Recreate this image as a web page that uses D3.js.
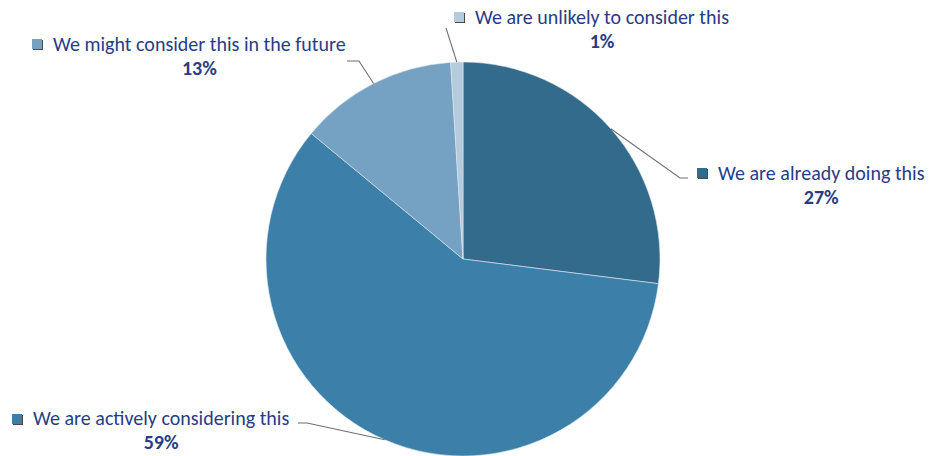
<!DOCTYPE html>
<html>
<head>
<meta charset="utf-8">
<script src="https://cdn.jsdelivr.net/npm/d3@7"></script>
<style>
  html, body { margin: 0; padding: 0; background: #ffffff; }
  svg { display: block; }
  .lbl { font-family: Carlito, Lato, "Open Sans", sans-serif; font-size: 20px; fill: #283c86; }
  .pct { font-weight: bold; }
</style>
</head>
<body>
<svg id="chart" width="931" height="456"></svg>
<script>
// Survey responses, in clockwise order from twelve o'clock
const categories = [
  "We are already doing this",
  "We are actively considering this",
  "We might consider this in the future",
  "We are unlikely to consider this"
];
const shares = [27, 59, 13, 1];
const shareLabels = ["27%", "59%", "13%", "1%"];
const sliceColors = ["#336b8c", "#3c80a9", "#75a1c2", "#b4cadd"];

// Label layout: marker corner, text start, baselines, leader elbow/end
const labelLayout = [
  { mx: 697, my: 168, tx: 718, by: 180, elbow: [680, 178], end: [688, 178] },
  { mx: 12,  my: 414, tx: 33,  by: 425, elbow: [307, 423], end: [298, 423] },
  { mx: 32,  my: 39,  tx: 53,  by: 51,  elbow: [359, 61],  end: [347, 61] },
  { mx: 454, my: 12,  tx: 475, by: 24,  elbow: null,       end: [446, 28] }
];

const cx = 463, cy = 259, radius = 197;

const svg = d3.select("#chart");

const pie = d3.pie().sort(null).value(d => d.value);
const arcs = pie(shares.map((v, i) => ({ value: v, i })));

const arc = d3.arc().innerRadius(0).outerRadius(radius);

const g = svg.append("g").attr("transform", `translate(${cx},${cy})`);

g.selectAll("path.slice")
  .data(arcs)
  .enter().append("path")
  .attr("class", "slice")
  .attr("d", arc)
  .attr("fill", d => sliceColors[d.data.i])
  .attr("stroke", "#dfe8ef")
  .attr("stroke-width", 0.6);

// Leader lines from each slice's mid-angle on the rim to its label
const leaderG = svg.append("g");
arcs.forEach(a => {
  const lay = labelLayout[a.data.i];
  const mid = (a.startAngle + a.endAngle) / 2;
  const px = cx + radius * Math.sin(mid);
  const py = cy - radius * Math.cos(mid);
  const pts = [[px, py]];
  if (lay.elbow) pts.push(lay.elbow);
  pts.push(lay.end);
  leaderG.append("path")
    .attr("d", d3.line()(pts))
    .attr("fill", "none")
    .attr("stroke", "#6f6f6f")
    .attr("stroke-width", 1.1);
});

// Labels: colour marker, category text, and percentage centred beneath
const labelG = svg.append("g");
categories.forEach((name, i) => {
  const lay = labelLayout[i];
  labelG.append("rect")
    .attr("x", lay.mx + 1).attr("y", lay.my + 1)
    .attr("width", 10).attr("height", 10)
    .attr("fill", "#4a4a4a");
  labelG.append("rect")
    .attr("x", lay.mx).attr("y", lay.my)
    .attr("width", 10).attr("height", 10)
    .attr("fill", sliceColors[i]);
  const t = labelG.append("text")
    .attr("class", "lbl")
    .attr("x", lay.tx).attr("y", lay.by)
    .text(name);
  const w = t.node().getComputedTextLength();
  labelG.append("text")
    .attr("class", "lbl pct")
    .attr("x", lay.tx + w / 2).attr("y", lay.by + 24)
    .attr("text-anchor", "middle")
    .text(shareLabels[i]);
});
</script>
</body>
</html>
